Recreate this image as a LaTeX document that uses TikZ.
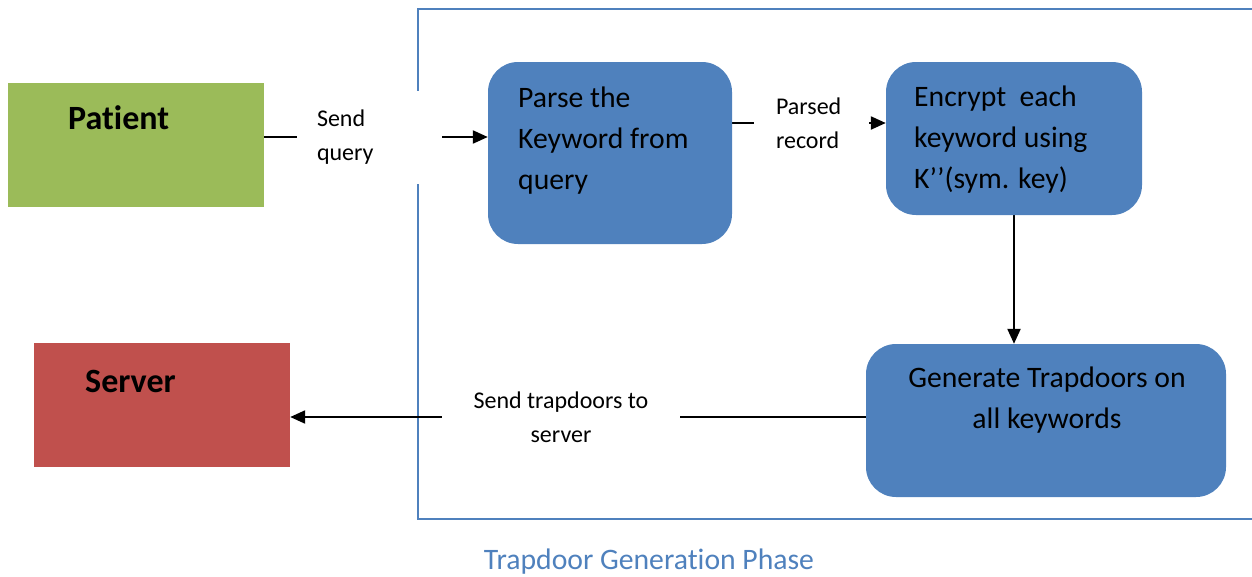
\documentclass[tikz,border=0pt]{standalone}
\usepackage{fontspec}
\setmainfont[Ligatures={NoCommon}]{Carlito}
\usetikzlibrary{arrows.meta,backgrounds}
\definecolor{boxblue}{HTML}{4F81BD}
\definecolor{pgreen}{HTML}{9BBB59}
\definecolor{sred}{HTML}{C0504D}
\begin{document}
\begin{tikzpicture}[x=1pt,y=-1pt,
  entity/.style={rectangle, draw=none, inner sep=0, minimum width=256pt, minimum height=124pt},
  entitytext/.style={anchor=base west, inner sep=0, font=\fontsize{34}{40}\selectfont\bfseries},
  stepbox/.style={rectangle, rounded corners=30pt, fill=boxblue, draw=none, inner sep=0},
  steptext/.style={inner sep=0, font=\fontsize{29.7}{41}\selectfont},
  lbl/.style={fill=white, inner ysep=0, font=\fontsize{24}{34}\selectfont},
  conn/.style={line width=2.2pt, black},
  arr/.style={conn, -{Triangle[length=15pt,width=13pt]}},
  phase/.style={draw=boxblue, line width=2pt}]
\useasboundingbox (0,0) rectangle (1252,576);
\clip (0,0) rectangle (1252,576);

% entities
\node[entity, fill=pgreen] (patient) at (136,145) {};
\node[entitytext] (patienttext) at (68,129) {Patient};
\node[entity, fill=sred] (server) at (162,405) {};
\node[entitytext] (servertext) at (85,392) {Server};

% process steps
\node[stepbox, minimum width=244pt, minimum height=182pt] (parse) at (610,153) {};
\node[steptext, anchor=north west, align=left] (parsetext) at (518,87) {Parse the\\Keyword from\\query};
\node[stepbox, minimum width=256pt, minimum height=153pt] (encrypt) at (1014,138.5) {};
\node[steptext, anchor=north west, align=left] (encrypttext) at (914,86) {Encrypt\ \ each\\keyword using\\K’’(sym. key)};
\node[stepbox, minimum width=360pt, minimum height=153pt] (gen) at (1046,420.5) {};
\node[steptext, anchor=north, align=center] (gentext) at (1047,367) {Generate Trapdoors on\\all keywords};

% connector labels (white backgrounds break the lines)
\node[lbl, align=left, text width=105pt, inner xsep=20pt, minimum height=93pt] (sendq) at (369.5,137) {Send\\query};
\node[lbl, align=left, text width=70pt, inner xsep=22.5pt, minimum height=70pt] (prec) at (811,123) {Parsed\\record};
\node[lbl, align=center, minimum width=238pt, minimum height=70pt] (strap) at (561,417) {Send trapdoors to\\server};

% title
\node[anchor=base, inner sep=0, text=boxblue, font=\fontsize{29.7}{34}\selectfont] (title) at (649,569) {Trapdoor Generation Phase};

\begin{scope}[on background layer]
  \draw[phase] (1262,9) -- (418,9) -- (418,519) -- (1262,519);
  \draw[arr] (patient.east |- sendq.center) -- (parse.west |- sendq.center);
  \draw[arr] (parse.east |- prec.center) -- (encrypt.west |- prec.center);
  \draw[arr] (encrypt.south) -- (encrypt.south |- gen.north);
  \draw[arr] (gen.west |- strap.center) -- (server.east |- strap.center);
\end{scope}
\end{tikzpicture}
\end{document}
